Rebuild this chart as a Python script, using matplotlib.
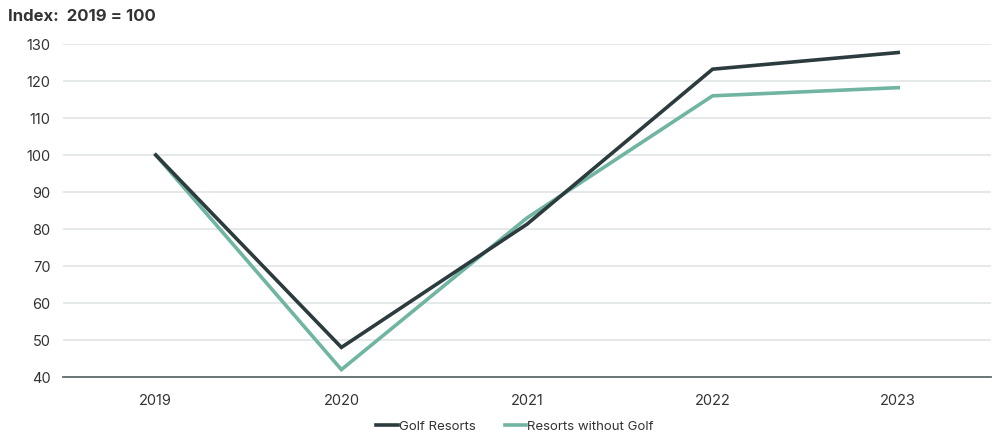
import matplotlib
matplotlib.use("Agg")
import matplotlib.pyplot as plt

plt.rcParams.update({
    "font.family": ["Inter", "DejaVu Sans"],
    "font.size": 10.5,
})

years = ["2019", "2020", "2021", "2022", "2023"]
golf_resorts = [100, 48, 81.3, 123.2, 127.7]
resorts_without_golf = [100, 42, 83, 116, 118.2]

GOLF_COLOR = "#2c3b3d"
NOGOLF_COLOR = "#70b4a2"
TEXT_COLOR = "#333333"

fig = plt.figure(figsize=(10, 4.41), dpi=100)
ax = fig.add_axes([0.063, 0.1451, 0.928, 0.7551])

x = list(range(len(years)))
ax.plot(x, golf_resorts, color=GOLF_COLOR, linewidth=2.6, label="Golf Resorts",
        solid_joinstyle="miter", zorder=3)
ax.plot(x, resorts_without_golf, color=NOGOLF_COLOR, linewidth=2.6,
        label="Resorts without Golf", solid_joinstyle="miter", zorder=2)

ax.set_xlim(-0.5, len(years) - 0.5)
ax.set_ylim(40, 130)
ax.set_yticks(range(40, 131, 10))
ax.set_xticks(x)
ax.set_xticklabels(years)

ax.grid(axis="y", color="#e4e7e7", linewidth=1.3)
ax.set_axisbelow(True)
for side in ("top", "right", "left"):
    ax.spines[side].set_visible(False)
ax.spines["bottom"].set_color("#5f6b6b")
ax.spines["bottom"].set_linewidth(1.3)
ax.tick_params(axis="both", length=0, colors=TEXT_COLOR, labelsize=10.5)
ax.tick_params(axis="y", pad=9)
ax.tick_params(axis="x", pad=12)

fig.text(0.008, 0.962, "Index:  2019 = 100", fontsize=12, fontweight="bold",
         color=TEXT_COLOR, ha="left", va="center")

fig.legend(loc="center", bbox_to_anchor=(0.515, 0.032), ncol=2, frameon=False,
           handlelength=1.6, handletextpad=0.1, columnspacing=2.2,
           fontsize=9.5, labelcolor=TEXT_COLOR)

fig.savefig("out.png", dpi=100)
